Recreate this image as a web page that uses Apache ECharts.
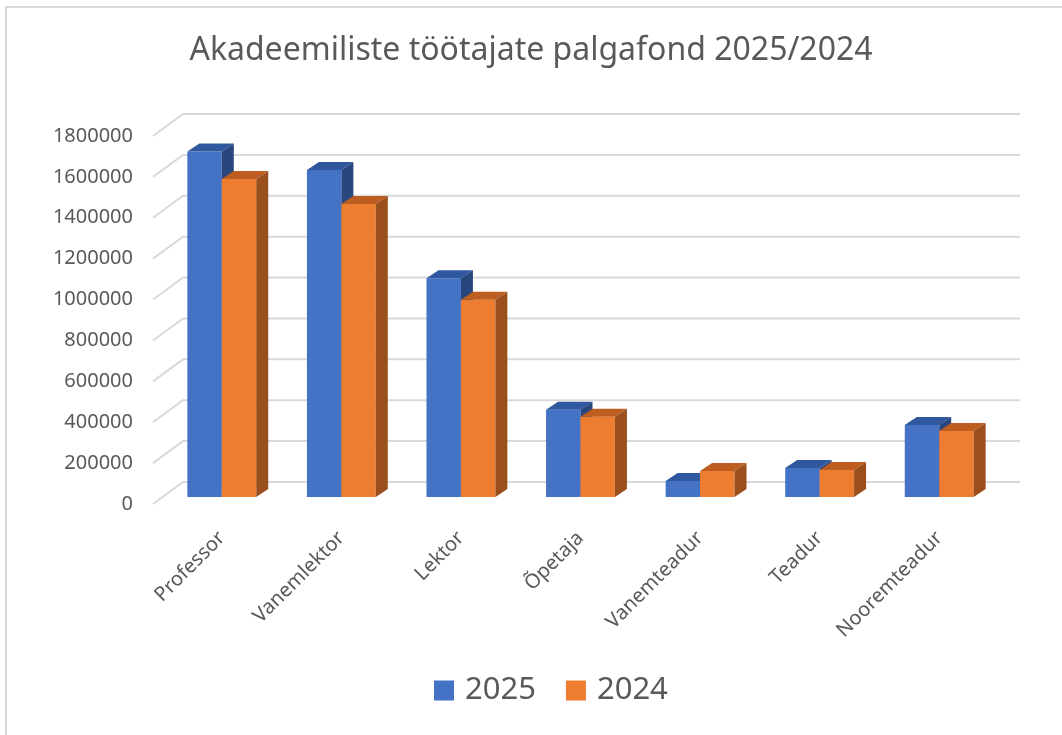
<!DOCTYPE html>
<html lang="et" style="height: 100%">
<head>
  <meta charset="utf-8">
  <title>Akadeemiliste töötajate palgafond 2025/2024</title>
</head>
<body style="height: 100%; margin: 0">
  <div id="container" style="width: 1062px; height: 735px"></div>

  <script type="text/javascript" src="https://cdn.jsdelivr.net/npm/echarts@6/dist/echarts.min.js"></script>
  <script type="text/javascript">
    var dom = document.getElementById('container');
    var myChart = echarts.init(dom, null, { renderer: 'canvas' });

    // andmed
    const categories = ['Professor', 'Vanemlektor', 'Lektor', 'Õpetaja', 'Vanemteadur', 'Teadur', 'Nooremteadur'];
    const values2025 = [1690000, 1600000, 1070000, 427000, 78000, 142000, 352000];
    const values2024 = [1555000, 1433000, 965000, 392000, 127000, 132000, 323000];
    const yTicks = [0, 200000, 400000, 600000, 800000, 1000000, 1200000, 1400000, 1600000, 1800000];

    const font = 'Noto Sans';
    const textGray = '#595959';
    const depthX = 12, depthY = 8;   // 3D sügavus
    const wallX = 30, wallY = 22;    // seina diagonaal

    // 3D tulba joonistamine
    function bar3d(side, front, topC, sideC) {
      return function (params, api) {
        const x = api.value(0), v = api.value(1);
        const base = api.coord([x, 0]);
        const top = api.coord([x, v]);
        const band = api.size([1, 0])[0];
        const w = band * 0.288;
        const x0 = side === 0 ? base[0] - w : base[0];
        const x1 = x0 + w;
        const y0 = top[1], y1 = base[1];
        return {
          type: 'group',
          children: [
            { type: 'rect', shape: { x: x0, y: y0, width: w, height: y1 - y0 }, style: { fill: front } },
            { type: 'polygon', shape: { points: [[x0, y0], [x0 + depthX, y0 - depthY], [x1 + depthX, y0 - depthY], [x1, y0]] }, style: { fill: topC } },
            { type: 'polygon', shape: { points: [[x1, y0], [x1 + depthX, y0 - depthY], [x1 + depthX, y1 - depthY], [x1, y1]] }, style: { fill: sideC } }
          ]
        };
      };
    }

    var option = {
      backgroundColor: '#fff',
      animation: false,
      title: {
        text: 'Akadeemiliste töötajate palgafond 2025/2024',
        left: 'center',
        top: 30,
        textStyle: { fontFamily: font, fontSize: 32, fontWeight: 'normal', color: textGray }
      },
      legend: {
        bottom: 24,
        left: 429,
        itemWidth: 20,
        itemHeight: 20,
        itemGap: 30,
        icon: 'rect',
        data: ['2025', '2024'],
        textStyle: { fontFamily: font, fontSize: 31, color: textGray, padding: [0, 0, 0, 6] }
      },
      graphic: [
        { type: 'rect', shape: { x: 6, y: 7, width: 1100, height: 800 }, style: { fill: 'none', stroke: '#d9d9d9', lineWidth: 2 }, silent: true }
      ],
      grid: [
        { left: 153, top: 136, width: 867, height: 368 },
        { left: 162, top: 129, width: 837, height: 368 }
      ],
      xAxis: [
        { gridIndex: 0, type: 'value', min: 0, max: 1, show: false },
        {
          gridIndex: 1,
          type: 'category',
          data: categories,
          axisLine: { show: false },
          axisTick: { show: false },
          axisLabel: { rotate: 45, margin: 38, interval: 0, fontFamily: font, fontSize: 20, color: textGray }
        }
      ],
      yAxis: [
        {
          gridIndex: 0,
          type: 'value',
          min: 0,
          max: 1800000,
          interval: 200000,
          axisLine: { show: false },
          axisTick: { show: false },
          splitLine: { show: false },
          axisLabel: {
            margin: 20, fontFamily: font, fontSize: 20, color: textGray,
            formatter: function (v) { return String(v); }
          }
        },
        { gridIndex: 1, type: 'value', min: 0, max: 1800000, interval: 200000, show: false, splitLine: { show: false } }
      ],
      series: [
        {
          type: 'custom',
          xAxisIndex: 0,
          yAxisIndex: 0,
          silent: true,
          data: yTicks.map(function (t) { return [0, t]; }),
          renderItem: function (params, api) {
            const p = api.coord([0, api.value(1)]);
            const r = api.coord([1, api.value(1)]);
            return {
              type: 'polyline',
              shape: { points: [[p[0], p[1]], [p[0] + wallX, p[1] - wallY], [r[0], p[1] - wallY]] },
              style: { stroke: '#d9d9d9', lineWidth: 2, fill: 'none' }
            };
          },
          z: 1
        },
        {
          name: '2025',
          type: 'custom',
          xAxisIndex: 1,
          yAxisIndex: 1,
          itemStyle: { color: '#4472C4' },
          data: values2025.map(function (v, i) { return [i, v]; }),
          renderItem: bar3d(0, '#4472C4', '#30589E', '#29477F'),
          z: 2
        },
        {
          name: '2024',
          type: 'custom',
          xAxisIndex: 1,
          yAxisIndex: 1,
          itemStyle: { color: '#ED7D31' },
          data: values2024.map(function (v, i) { return [i, v]; }),
          renderItem: bar3d(1, '#ED7D31', '#BD5E20', '#9B4F1D'),
          z: 3
        }
      ]
    };

    myChart.setOption(option);
    window.addEventListener('resize', myChart.resize);
  </script>
</body>
</html>
